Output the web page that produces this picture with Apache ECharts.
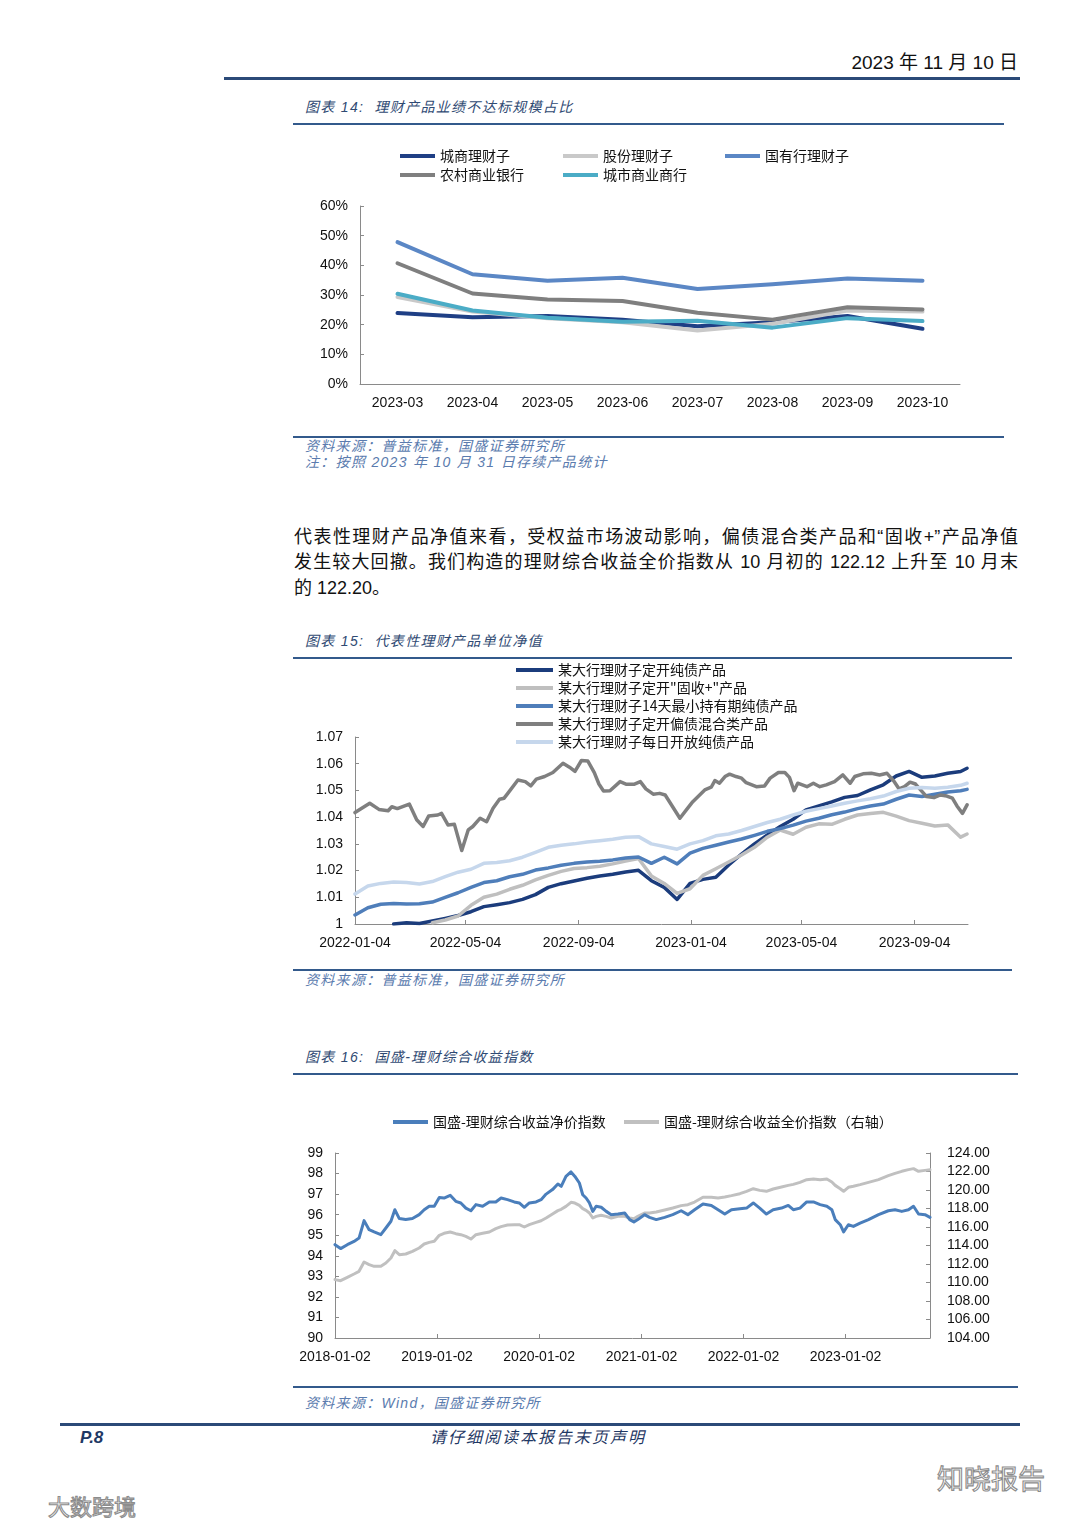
<!DOCTYPE html>
<html lang="zh-CN">
<head>
<meta charset="utf-8">
<script src="https://cdn.jsdelivr.net/npm/echarts@6/dist/echarts.min.js"></script>
<style>
html,body{margin:0;padding:0;background:#fff;}
#page{position:relative;width:1080px;height:1527px;overflow:hidden;background:#fff;}
#chart{position:absolute;left:0;top:0;width:1080px;height:1527px;}
.t{position:absolute;white-space:nowrap;font-family:"Liberation Sans","Noto Sans CJK SC",sans-serif;}
.rule{position:absolute;}
.cap{font-style:italic;color:#2f4a73;font-size:14px;line-height:18px;letter-spacing:1.3px;}
.src{font-style:italic;color:#5a7bae;font-size:14px;line-height:18px;letter-spacing:1.3px;}
.para{position:absolute;left:294px;width:724px;font-family:"Liberation Sans","Noto Sans CJK SC",sans-serif;font-size:18px;line-height:25px;color:#111;text-align:justify;text-align-last:justify;}
.wm{position:absolute;white-space:nowrap;font-family:"Noto Sans CJK SC",sans-serif;color:#fff;-webkit-text-stroke:1.1px #8c8c8c;}
</style>
</head>
<body>
<div id="page">
  <div class="t" style="right:62px;top:51px;font-size:19px;line-height:24px;color:#111;">2023 年 11 月 10 日</div>
  <div class="rule" style="left:224px;top:77px;width:796px;height:3px;background:#2b4a78;"></div>

  <div class="t cap" style="left:305px;top:98px;">图表 14:&nbsp; 理财产品业绩不达标规模占比</div>
  <div class="rule" style="left:293px;top:123px;width:711px;height:2px;background:#335a8c;"></div>
  <div class="rule" style="left:293px;top:436px;width:711px;height:2px;background:#335a8c;"></div>
  <div class="t src" style="left:305px;top:437px;">资料来源：普益标准，国盛证券研究所</div>
  <div class="t src" style="left:305px;top:453px;">注：按照 2023 年 10 月 31 日存续产品统计</div>

  <div class="para" style="top:525px;">代表性理财产品净值来看，受权益市场波动影响，偏债混合类产品和“固收+”产品净值</div>
  <div class="para" style="top:550px;">发生较大回撤。我们构造的理财综合收益全价指数从 10 月初的 122.12 上升至 10 月末</div>
  <div class="para" style="top:576px;text-align:left;text-align-last:left;">的 122.20。</div>

  <div class="t cap" style="left:305px;top:632px;">图表 15:&nbsp; 代表性理财产品单位净值</div>
  <div class="rule" style="left:293px;top:657px;width:719px;height:2px;background:#335a8c;"></div>
  <div class="rule" style="left:293px;top:969px;width:719px;height:2px;background:#335a8c;"></div>
  <div class="t src" style="left:305px;top:971px;">资料来源：普益标准，国盛证券研究所</div>

  <div class="t cap" style="left:305px;top:1048px;">图表 16:&nbsp; 国盛-理财综合收益指数</div>
  <div class="rule" style="left:293px;top:1073px;width:725px;height:2px;background:#335a8c;"></div>
  <div class="rule" style="left:293px;top:1386px;width:725px;height:2px;background:#335a8c;"></div>
  <div class="t src" style="left:305px;top:1394px;">资料来源：Wind，国盛证券研究所</div>

  <div class="rule" style="left:60px;top:1423px;width:960px;height:3px;background:#2b4a78;"></div>
  <div class="t" style="left:80px;top:1427px;font-size:17px;line-height:22px;font-weight:bold;font-style:italic;color:#1f3864;">P.8</div>
  <div class="t" style="left:430px;top:1428px;font-size:16px;line-height:20px;font-style:italic;color:#1f3864;letter-spacing:2px;">请仔细阅读本报告末页声明</div>

  <div class="wm" style="left:937px;top:1460px;font-size:27px;line-height:36px;">知晓报告</div>
  <div class="wm" style="left:48px;top:1490px;font-size:22px;line-height:30px;">大数跨境</div>
  <div id="chart"></div>
</div>
<script>
// ---------------- 图表14 ----------------
const months14 = ['2023-03','2023-04','2023-05','2023-06','2023-07','2023-08','2023-09','2023-10'];
const csLicai14 = [23.9,22.5,22.9,21.7,19.5,20.8,22.9,18.6];   // 城商理财子
const gfLicai14 = [29.3,24.4,22.2,20.8,18.0,20.3,24.8,24.4];   // 股份理财子
const gyLicai14 = [47.8,37.0,34.8,35.8,32.0,33.6,35.6,34.8];   // 国有行理财子
const ncBank14  = [40.7,30.5,28.5,28.0,24.0,21.7,25.9,25.1];   // 农村商业银行
const csBank14  = [30.4,24.8,22.3,21.0,21.3,19.0,22.2,21.2];   // 城市商业商行

// ---------------- 图表15 ----------------
const dates15 = ['2022-01-04','2022-01-18','2022-02-01','2022-02-15','2022-03-01','2022-03-15','2022-03-29','2022-04-12','2022-04-26','2022-05-10',
  '2022-05-24','2022-06-07','2022-06-21','2022-07-05','2022-07-19','2022-08-02','2022-08-16','2022-08-30','2022-09-13','2022-09-27',
  '2022-10-11','2022-10-25','2022-11-08','2022-11-22','2022-12-06','2022-12-20','2023-01-03','2023-01-17','2023-01-31','2023-02-14',
  '2023-02-28','2023-03-14','2023-03-28','2023-04-11','2023-04-25','2023-05-09','2023-05-23','2023-06-06','2023-06-20','2023-07-04',
  '2023-07-18','2023-08-01','2023-08-15','2023-08-29','2023-09-12','2023-09-26','2023-10-10','2023-10-24','2023-10-31'];
const pureBond15 = [null,null,null,1.0000,1.0005,1.0002,1.0011,1.0021,1.0032,1.0046,1.0065,1.0072,1.0080,1.0092,1.0110,1.0137,1.0151,1.0161,1.0171,1.0180,
  1.0186,1.0195,1.0201,1.0162,1.0137,1.0092,1.0152,1.0167,1.0175,1.0221,1.0262,1.0300,1.0333,1.0365,1.0392,1.0427,1.0442,1.0457,1.0474,1.0481,
  1.0502,1.0521,1.0554,1.0571,1.0549,1.0554,1.0564,1.0571,1.0583];
const fixedPlus15 = [null,null,null,null,null,null,1.0005,1.0015,1.0030,1.0070,1.0100,1.0112,1.0130,1.0145,1.0165,1.0182,1.0197,1.0208,1.0211,1.0216,
  1.0225,1.0236,1.0245,1.0180,1.0152,1.0115,1.0132,1.0182,1.0207,1.0232,1.0258,1.0287,1.0325,1.0352,1.0336,1.0362,1.0375,1.0373,1.0392,1.0408,
  1.0414,1.0418,1.0404,1.0387,1.0377,1.0367,1.0371,1.0325,1.0337];
const min14d15 = [1.0034,1.0061,1.0074,1.0077,1.0075,1.0076,1.0082,1.0100,1.0117,1.0137,1.0155,1.0162,1.0177,1.0186,1.0202,1.0210,1.0220,1.0227,1.0232,1.0235,
  1.0240,1.0247,1.0251,1.0227,1.0250,1.0225,1.0265,1.0283,1.0295,1.0307,1.0318,1.0332,1.0347,1.0357,1.0370,1.0385,1.0396,1.0409,1.0419,1.0432,
  1.0442,1.0449,1.0467,1.0483,1.0477,1.0486,1.0494,1.0499,1.0504];
const daily15 = [1.0112,1.0142,1.0152,1.0157,1.0155,1.0150,1.0159,1.0177,1.0194,1.0205,1.0227,1.0230,1.0237,1.0250,1.0268,1.0287,1.0295,1.0300,1.0307,1.0312,
  1.0317,1.0325,1.0327,1.0300,1.0290,1.0280,1.0300,1.0312,1.0330,1.0337,1.0350,1.0365,1.0380,1.0392,1.0408,1.0422,1.0432,1.0442,1.0452,1.0461,
  1.0469,1.0479,1.0496,1.0508,1.0511,1.0508,1.0512,1.0519,1.0527];
const mixedDates15 = ['2022-01-04','2022-01-20','2022-01-30','2022-02-09','2022-02-13','2022-02-19','2022-03-04','2022-03-12','2022-03-19','2022-03-25',
  '2022-04-04','2022-04-08','2022-04-15','2022-04-22','2022-04-30','2022-05-07','2022-05-12','2022-05-20','2022-05-27','2022-06-03',
  '2022-06-10','2022-06-15','2022-06-19','2022-06-30','2022-07-08','2022-07-14','2022-07-20','2022-07-29','2022-08-07','2022-08-18',
  '2022-08-25','2022-08-31','2022-09-07','2022-09-14','2022-09-21','2022-09-26','2022-10-01','2022-10-08','2022-10-19','2022-10-26',
  '2022-11-03','2022-11-10','2022-11-16','2022-11-24','2022-12-01','2022-12-07','2022-12-23','2022-12-30','2023-01-06','2023-01-19',
  '2023-01-26','2023-01-30','2023-02-04','2023-02-10','2023-02-15','2023-02-22','2023-02-28','2023-03-05','2023-03-16','2023-03-25',
  '2023-03-31','2023-04-09','2023-04-16','2023-04-21','2023-04-26','2023-04-30','2023-05-10','2023-05-17','2023-05-24','2023-05-31',
  '2023-06-09','2023-06-18','2023-06-26','2023-07-01','2023-07-10','2023-07-19','2023-07-28','2023-08-05','2023-08-12','2023-08-18',
  '2023-08-24','2023-08-30','2023-09-05','2023-09-10','2023-09-17','2023-09-25','2023-10-02','2023-10-09','2023-10-15','2023-10-20',
  '2023-10-26','2023-10-31'];
const mixed15 = [1.0417,1.0452,1.0429,1.0424,1.0439,1.0432,1.0449,1.0390,1.0365,1.0404,
  1.0408,1.0414,1.0371,1.0373,1.0275,1.0352,1.0365,1.0396,1.0383,1.0433,
  1.0467,1.0471,1.0489,1.0539,1.0533,1.0517,1.0542,1.0552,1.0567,1.0602,
  1.0587,1.0571,1.0612,1.0610,1.0567,1.0524,1.0498,1.0499,1.0533,1.0523,
  1.0523,1.0533,1.0506,1.0486,1.0489,1.0483,1.0396,1.0427,1.0458,1.0502,
  1.0512,1.0537,1.0527,1.0552,1.0561,1.0552,1.0546,1.0529,1.0514,1.0517,
  1.0546,1.0567,1.0567,1.0549,1.0499,1.0527,1.0514,1.0527,1.0514,1.0521,
  1.0533,1.0558,1.0527,1.0552,1.0562,1.0564,1.0558,1.0564,1.0537,1.0506,
  1.0514,1.0531,1.0524,1.0504,1.0477,1.0473,1.0483,1.0479,1.0471,1.0442,
  1.0414,1.0446];
const ticks15 = ['2022-01-04','2022-05-04','2022-09-04','2023-01-04','2023-05-04','2023-09-04'];

// ---------------- 图表16 ----------------
const dates16 = ['2018-01-02','2018-01-22','2018-02-15','2018-03-11','2018-03-29','2018-04-16','2018-05-04','2018-05-22','2018-06-15','2018-07-03',
  '2018-07-21','2018-08-04','2018-08-20','2018-09-12','2018-10-06','2018-10-30','2018-11-17','2018-12-05','2018-12-23','2019-01-10',
  '2019-01-27','2019-02-18','2019-03-10','2019-03-28','2019-04-15','2019-05-03','2019-05-21','2019-06-14','2019-07-08','2019-07-31',
  '2019-08-19','2019-09-11','2019-10-05','2019-10-23','2019-11-10','2019-11-28','2019-12-22','2020-01-09','2020-01-27','2020-02-19',
  '2020-03-09','2020-03-21','2020-04-07','2020-04-25','2020-05-09','2020-05-25','2020-06-06','2020-06-18','2020-06-30','2020-07-12',
  '2020-07-24','2020-08-11','2020-08-29','2020-09-16','2020-10-10','2020-11-03','2020-11-21','2020-12-06','2020-12-20','2021-01-13',
  '2021-01-31','2021-02-24','2021-03-26','2021-04-24','2021-05-24','2021-06-17','2021-07-11','2021-08-10','2021-09-09','2021-10-03',
  '2021-10-27','2021-11-20','2021-12-20','2022-01-13','2022-02-06','2022-03-01','2022-03-25','2022-04-18','2022-05-18','2022-06-11',
  '2022-06-29','2022-07-23','2022-08-16','2022-09-09','2022-10-03','2022-10-27','2022-11-14','2022-11-26','2022-12-14','2022-12-26',
  '2023-01-12','2023-01-30','2023-02-23','2023-03-25','2023-04-30','2023-06-04','2023-06-28','2023-07-22','2023-08-15','2023-09-02',
  '2023-09-20','2023-10-13','2023-10-31'];
const net16 = [94.54,94.35,94.54,94.70,94.86,95.71,95.27,95.16,95.03,95.35,
  95.68,96.24,95.81,95.76,95.81,96.00,96.24,96.41,96.41,96.84,
  96.81,96.94,96.65,96.57,96.32,96.19,96.49,96.41,96.62,96.62,
  96.81,96.73,96.62,96.57,96.36,96.57,96.62,96.73,97.00,97.22,
  97.49,97.38,97.86,98.08,97.86,97.54,96.97,96.81,96.57,96.16,
  96.41,96.36,96.16,96.00,96.03,96.08,95.76,95.64,95.76,96.00,
  95.87,95.76,95.87,96.00,96.19,96.00,96.24,96.52,96.45,96.24,
  96.03,96.24,96.29,96.32,96.57,96.32,96.03,96.24,96.32,96.45,
  96.24,96.32,96.62,96.62,96.49,96.41,96.24,95.76,95.51,95.16,
  95.51,95.43,95.59,95.76,96.00,96.19,96.24,96.16,96.24,96.41,
  96.03,96.00,95.87];
const full16 = [110.31,110.20,110.56,110.92,111.21,112.22,111.93,111.75,111.75,112.11,
  112.65,113.44,113.01,113.08,113.37,113.73,114.16,114.34,114.45,115.10,
  115.32,115.46,115.28,115.17,114.99,114.70,115.17,115.32,115.46,115.82,
  116.04,116.22,116.25,116.25,116.00,116.25,116.50,116.68,116.97,117.41,
  117.77,117.91,118.23,118.67,118.59,118.34,117.98,117.80,117.51,116.97,
  117.15,117.26,117.15,116.97,117.15,117.15,116.97,116.90,117.15,117.51,
  117.51,117.62,117.84,118.05,118.31,118.41,118.70,119.21,119.21,119.14,
  119.24,119.39,119.60,119.86,120.14,119.96,119.86,120.11,120.32,120.50,
  120.61,120.83,121.12,121.19,121.12,121.19,120.86,120.50,120.14,119.86,
  120.29,120.40,120.58,120.83,121.12,121.55,121.80,122.02,122.20,122.31,
  122.02,122.12,122.20];
const ticks16 = ['2018-01-02','2019-01-02','2020-01-02','2021-01-02','2022-01-02','2023-01-02'];

// ---------------- helpers ----------------
const parseDay = s => { const p = s.split('-').map(Number); return new Date(p[0], p[1]-1, p[2]).getTime(); };
const pad = n => (n < 10 ? '0' : '') + n;
const fmtDay = t => { const d = new Date(t); return d.getFullYear() + '-' + pad(d.getMonth()+1) + '-' + pad(d.getDate()); };
const pairs = (ds, vs) => ds.map((d, i) => [parseDay(d), vs[i]]);

const AX = '#8a8a8a';
const LBL = {color:'#111', fontSize:14, fontFamily:'Liberation Sans'};
const LEG_TXT = {color:'#111', fontSize:14, fontFamily:'Noto Sans CJK SC'};
function legendAt(name, left, top, w) {
  return {data:[name], left:left, top:top, padding:0, itemWidth:w, itemHeight:4, icon:'rect',
          selectedMode:false, textStyle:LEG_TXT};
}
function lineSeries(name, color, width, x, y, data, z) {
  return {name:name, type:'line', xAxisIndex:x, yAxisIndex:y, data:data, color:color, showSymbol:false, symbol:'none',
          lineStyle:{color:color, width:width, join:'round', cap:'round'}, z:z||2, connectNulls:false};
}
function dateAxis(grid, minS, maxS, ticks) {
  const tv = ticks.map(parseDay);
  return {gridIndex:grid, type:'value', min:parseDay(minS), max:parseDay(maxS), scale:false,
    axisLine:{show:true, onZero:false, lineStyle:{color:AX}},
    axisTick:{show:true, inside:true, length:4, lineStyle:{color:AX}, customValues:tv},
    axisLabel:Object.assign({margin:12, customValues:tv, formatter:v => fmtDay(v), hideOverlap:false}, LBL),
    splitLine:{show:false}};
}

const C14 = {cs:'#1f3f85', gf:'#c9c9c9', gy:'#5b87c5', nc:'#7f7f7f', cb:'#4bacc6'};
const C15 = {pure:'#1b3c7c', plus:'#bfbfbf', d14:'#4f7eba', mix:'#7f7f7f', daily:'#c6d7ec'};
const C16 = {net:'#4a7ebb', full:'#c0c0c0'};

const names14 = ['城商理财子','股份理财子','国有行理财子','农村商业银行','城市商业商行'];
const names15 = ['某大行理财子定开纯债产品','某大行理财子定开"固收+"产品','某大行理财子14天最小持有期纯债产品','某大行理财子定开偏债混合类产品','某大行理财子每日开放纯债产品'];
const names16 = ['国盛-理财综合收益净价指数','国盛-理财综合收益全价指数（右轴）'];

const chart = echarts.init(document.getElementById('chart'), null, {renderer:'canvas'});
const option = {
  animation:false,
  backgroundColor:'transparent',
  legend:[
    legendAt(names14[0], 400, 149, 35), legendAt(names14[1], 563, 149, 35), legendAt(names14[2], 725, 149, 35),
    legendAt(names14[3], 400, 168, 35), legendAt(names14[4], 563, 168, 35),
    legendAt(names15[0], 516, 663, 37), legendAt(names15[1], 516, 681, 37), legendAt(names15[2], 516, 699, 37),
    legendAt(names15[3], 516, 717, 37), legendAt(names15[4], 516, 735, 37),
    legendAt(names16[0], 393, 1115, 35), legendAt(names16[1], 624, 1115, 35)
  ],
  grid:[
    {left:360, top:206, width:600, height:178, outerBoundsMode:'none'},
    {left:355, top:737, width:613, height:187, outerBoundsMode:'none'},
    {left:335, top:1153, width:595, height:185, outerBoundsMode:'none'}
  ],
  xAxis:[
    {gridIndex:0, type:'category', data:months14, boundaryGap:true,
     axisLine:{lineStyle:{color:AX}}, axisTick:{inside:true, length:4, lineStyle:{color:AX}},
     axisLabel:Object.assign({margin:12}, LBL), splitLine:{show:false}},
    dateAxis(1, '2022-01-04', '2023-11-01', ticks15),
    dateAxis(2, '2018-01-02', '2023-10-31', ticks16)
  ],
  yAxis:[
    {gridIndex:0, type:'value', min:0, max:60, interval:10,
     axisLine:{show:true, lineStyle:{color:AX}}, axisTick:{show:true, inside:true, length:4, lineStyle:{color:AX}},
     axisLabel:Object.assign({margin:12, formatter:'{value}%'}, LBL), splitLine:{show:false}},
    {gridIndex:1, type:'value', min:1.00, max:1.07, interval:0.01,
     axisLine:{show:true, lineStyle:{color:AX}}, axisTick:{show:true, inside:true, length:4, lineStyle:{color:AX}},
     axisLabel:Object.assign({margin:12, formatter:v => String(Math.round(v*100)/100)}, LBL), splitLine:{show:false}},
    {gridIndex:2, type:'value', min:90, max:99, interval:1,
     axisLine:{show:true, lineStyle:{color:AX}}, axisTick:{show:true, inside:true, length:4, lineStyle:{color:AX}},
     axisLabel:Object.assign({margin:12}, LBL), splitLine:{show:false}},
    {gridIndex:2, type:'value', position:'right', min:104, max:124, interval:2,
     axisLine:{show:true, lineStyle:{color:AX}}, axisTick:{show:true, inside:true, length:4, lineStyle:{color:AX}},
     axisLabel:Object.assign({margin:17, formatter:v => v.toFixed(2)}, LBL), splitLine:{show:false}}
  ],
  series:[
    lineSeries(names14[0], C14.cs, 4, 0, 0, csLicai14),
    lineSeries(names14[1], C14.gf, 4, 0, 0, gfLicai14),
    lineSeries(names14[2], C14.gy, 4, 0, 0, gyLicai14),
    lineSeries(names14[3], C14.nc, 4, 0, 0, ncBank14),
    lineSeries(names14[4], C14.cb, 4, 0, 0, csBank14),

    lineSeries(names15[0], C15.pure, 3.5, 1, 1, pairs(dates15, pureBond15)),
    lineSeries(names15[1], C15.plus, 3.5, 1, 1, pairs(dates15, fixedPlus15)),
    lineSeries(names15[2], C15.d14, 3.5, 1, 1, pairs(dates15, min14d15)),
    lineSeries(names15[3], C15.mix, 3.5, 1, 1, pairs(mixedDates15, mixed15)),
    lineSeries(names15[4], C15.daily, 3.5, 1, 1, pairs(dates15, daily15)),

    lineSeries(names16[0], C16.net, 3, 2, 2, pairs(dates16, net16), 3),
    lineSeries(names16[1], C16.full, 3, 2, 3, pairs(dates16, full16), 2)
  ]
};
chart.setOption(option);
</script>
</body>
</html>
